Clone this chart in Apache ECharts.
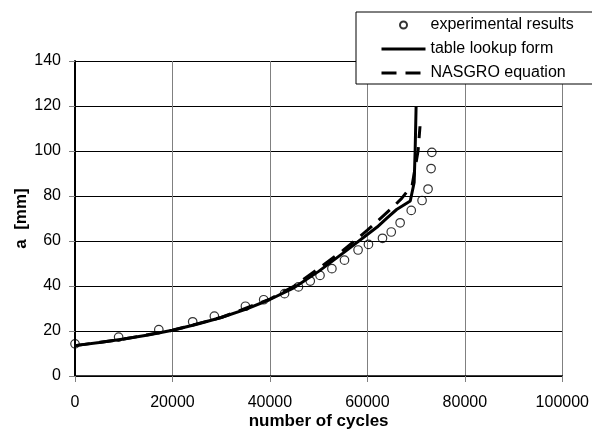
<!DOCTYPE html>
<html>
<head>
<meta charset="utf-8">
<script src="https://cdn.jsdelivr.net/npm/echarts@6/dist/echarts.min.js"></script>
<style>
html,body{margin:0;padding:0;background:#fff;}
#chart{width:592px;height:442px;}
</style>
</head>
<body>
<div id="chart"></div>
<script>
var expCycles = [0, 8950, 17200, 24150, 28600, 34970, 38720, 43000, 45850, 48280, 50280, 52720, 55300, 58090, 60220, 63100, 64900, 66720, 69000, 71220, 72450, 73070, 73230];
var expA = [14.3, 17.3, 20.6, 24.1, 26.6, 31.0, 33.9, 36.6, 39.6, 42.2, 44.7, 47.7, 51.5, 56.0, 58.5, 61.2, 64.0, 68.1, 73.6, 78.0, 83.1, 92.2, 99.4];

var lookupCycles = [0, 5000, 10000, 15000, 20000, 25000, 30000, 35000, 40000, 45000, 50000, 55000, 60000, 62000, 64000, 66000, 68800, 69600, 69800, 70000];
var lookupA = [13.5, 14.9, 16.4, 18.2, 20.3, 23.0, 26.0, 29.6, 34.0, 39.3, 46.5, 54.6, 62.9, 66.2, 70.2, 74.0, 77.8, 86.0, 100, 120];

var nasgroCycles = [0, 10000, 20000, 30000, 40000, 45000, 50000, 55000, 60000, 65000, 67000, 69200, 70400, 70800];
var nasgroA = [13.5, 16.4, 20.3, 26.0, 34.2, 40.0, 47.8, 55.8, 64.8, 74.6, 78.8, 85.0, 100, 111];

var seriesNames = ['experimental results', 'table lookup form', 'NASGRO equation'];

function pairs(xs, ys) {
  return xs.map(function (x, i) { return [x, ys[i]]; });
}

var chart = echarts.init(document.getElementById('chart'), null, {renderer: 'canvas'});
var font = 'Liberation Sans, Arial, sans-serif';
chart.setOption({
  animation: false,
  backgroundColor: '#fff',
  textStyle: {fontFamily: font},
  grid: {left: 75, right: 27, top: 61, bottom: 66, containLabel: false},
  legend: {
    orient: 'vertical',
    left: 356,
    top: 12,
    itemWidth: 44,
    itemHeight: 7,
    itemGap: 8,
    padding: [5, 22, 3, 24],
    backgroundColor: '#fff',
    borderColor: '#000',
    borderWidth: 1,
    borderRadius: 0,
    textStyle: {fontFamily: font, fontSize: 16, color: '#000', lineHeight: 16},
    data: [
      {name: seriesNames[0]},
      {name: seriesNames[1], itemStyle: {opacity: 0}, lineStyle: {width: 3}},
      {name: seriesNames[2], itemStyle: {opacity: 0}, lineStyle: {width: 3}}
    ]
  },
  xAxis: {
    type: 'value',
    min: 0,
    max: 100000,
    interval: 20000,
    name: 'number of cycles',
    nameLocation: 'middle',
    nameGap: 37,
    nameMoveOverlap: false,
    nameTextStyle: {fontFamily: font, fontSize: 17, fontWeight: 'bold', color: '#000'},
    axisLine: {show: true, onZero: false, lineStyle: {color: '#000', width: 1.5}},
    axisTick: {show: true, length: 6, lineStyle: {color: '#808080', width: 1}},
    axisLabel: {fontFamily: font, fontSize: 16, color: '#000', margin: 19, formatter: function (v) { return String(v); }},
    splitLine: {show: true, lineStyle: {color: '#808080', width: 1}}
  },
  yAxis: {
    type: 'value',
    min: 0,
    max: 140,
    interval: 20,
    name: 'a  [mm]',
    nameLocation: 'middle',
    nameGap: 45,
    nameMoveOverlap: false,
    nameTextStyle: {fontFamily: font, fontSize: 17, fontWeight: 'bold', color: '#000'},
    axisLine: {show: true, onZero: false, lineStyle: {color: '#000', width: 2}},
    axisTick: {show: true, length: 6, lineStyle: {color: '#808080', width: 1}},
    axisLabel: {fontFamily: font, fontSize: 16, color: '#000', margin: 14},
    splitLine: {show: true, lineStyle: {color: '#000', width: 1}}
  },
  series: [
    {
      name: seriesNames[0],
      type: 'scatter',
      data: pairs(expCycles, expA),
      symbol: 'circle',
      symbolSize: 8.5,
      itemStyle: {color: 'rgba(255,255,255,0)', borderColor: '#000', borderWidth: 1.2},
      z: 3
    },
    {
      name: seriesNames[1],
      type: 'line',
      data: pairs(lookupCycles, lookupA),
      showSymbol: false,
      symbol: 'none',
      smooth: false,
      lineStyle: {color: '#000', width: 3, type: 'solid'},
      itemStyle: {color: '#000'},
      z: 2
    },
    {
      name: seriesNames[2],
      type: 'line',
      data: pairs(nasgroCycles, nasgroA),
      showSymbol: false,
      symbol: 'none',
      smooth: false,
      lineStyle: {color: '#000', width: 3, type: [15, 9]},
      itemStyle: {color: '#000'},
      z: 2
    }
  ]
});
</script>
</body>
</html>
